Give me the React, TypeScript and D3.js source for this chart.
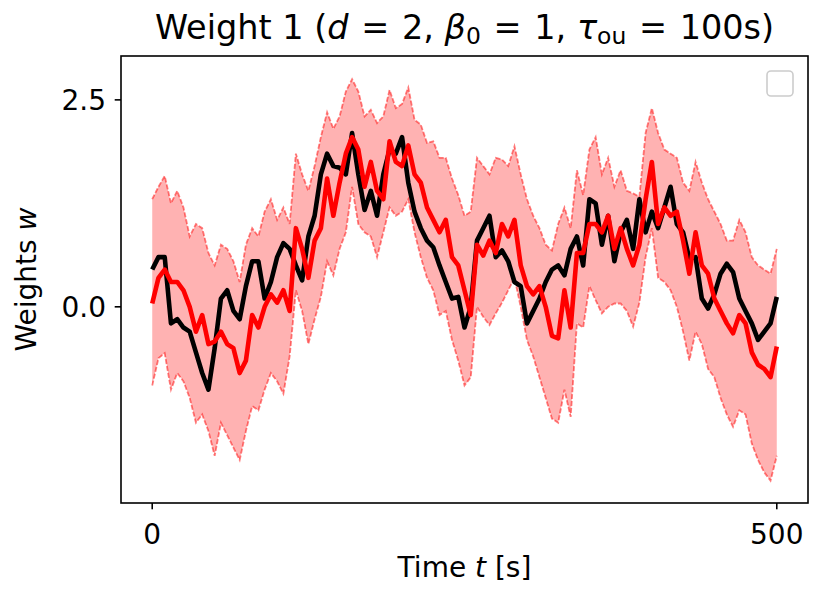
import React from 'react';
import * as d3 from 'd3';

// sample times (s), one reading every 5 s
const times = d3.range(0, 501, 5);

// true weight (black)
const trueWeight = [
    0.45, 0.6, 0.6, -0.2, -0.15, -0.25, -0.3, -0.55, -0.8, -1.0,
    -0.5, 0.1, 0.2, -0.05, -0.15, 0.25, 0.55, 0.55, 0.1, 0.3,
    0.6, 0.77, 0.7, 0.5, 0.32, 0.85, 1.1, 1.6, 1.85, 1.7,
    1.68, 1.6, 2.1, 1.6, 1.17, 1.4, 1.1, 1.6, 1.9, 1.85,
    2.05, 1.5, 1.15, 0.95, 0.8, 0.72, 0.5, 0.3, 0.1, 0.12,
    -0.25, 0.0, 0.8, 0.95, 1.1, 0.6, 0.68, 0.55, 0.3, 0.25,
    -0.2, -0.05, 0.1, 0.3, 0.45, 0.5, 0.38, 0.7, 0.85, 0.5,
    1.3, 1.25, 0.75, 1.1, 0.55, 0.9, 1.05, 0.7, 1.3, 0.9,
    1.15, 0.95, 1.2, 1.45, 1.0, 0.9, 0.58, 0.6, 0.1, -0.02,
    0.15, 0.4, 0.52, 0.42, 0.1, -0.05, -0.2, -0.4, -0.3, -0.2,
    0.12,
];

// filter mean (red)
const meanWeight = [
    0.04, 0.35, 0.45, 0.3, 0.3, 0.2, 0.0, -0.3, -0.1, -0.45,
    -0.42, -0.3, -0.45, -0.5, -0.8, -0.65, -0.1, -0.25, 0.0, 0.15,
    0.05, 0.2, -0.05, 0.95, 0.7, 0.35, 0.8, 0.95, 1.55, 1.1,
    1.5, 1.85, 2.05, 1.9, 1.45, 1.75, 1.4, 1.3, 2.0, 1.75,
    1.7, 1.95, 1.6, 1.5, 1.2, 1.05, 0.9, 1.05, 0.6, 0.5,
    0.2, -0.1, 0.75, 0.62, 0.8, 0.65, 1.0, 0.85, 1.05, 0.5,
    0.25, 0.15, 0.25, 0.0, -0.35, -0.38, 0.2, -0.25, 0.65, 0.65,
    1.0, 1.0, 0.9, 1.1, 0.7, 0.95, 0.7, 0.5, 0.75, 1.3,
    1.75, 1.0, 1.2, 1.1, 1.15, 0.8, 0.4, 0.9, 0.5, 0.4,
    0.1, -0.05, -0.2, -0.32, -0.1, -0.2, -0.55, -0.7, -0.75, -0.85,
    -0.48,
];

// mean + 2 sd
const upperBand = [
    1.3, 1.45, 1.58, 1.25, 1.4, 1.2, 0.85, 1.0, 0.95, 0.65,
    0.5, 0.75, 0.7, 0.55, 0.3, 0.75, 0.95, 0.85, 1.15, 1.3,
    1.05, 1.2, 1.0, 1.85, 1.6, 1.4, 1.7, 2.05, 2.35, 2.15,
    2.3, 2.6, 2.75, 2.6, 2.3, 2.38, 2.22, 2.3, 2.62, 2.4,
    2.45, 2.65, 2.26, 2.2, 1.98, 2.0, 1.8, 1.8, 1.55, 1.35,
    1.1, 1.15, 1.8, 1.7, 1.6, 1.8, 1.78, 1.7, 1.94, 1.6,
    1.3, 1.1, 0.95, 0.75, 0.68, 1.0, 1.2, 0.95, 1.65, 1.35,
    1.9, 2.05, 1.6, 1.8, 1.45, 1.65, 1.4, 1.37, 1.33, 2.1,
    2.4, 2.1, 1.9, 1.85, 1.8, 1.5, 1.4, 1.75, 1.5, 1.3,
    1.15, 1.0, 0.8, 0.8, 1.05, 0.9, 0.6, 0.5, 0.45, 0.4,
    0.7,
];

// mean - 2 sd
const lowerBand = [
    -0.95, -0.62, -0.56, -1.0, -0.8, -0.9, -1.1, -1.4, -1.3, -1.5,
    -1.8, -1.4, -1.55, -1.7, -1.85, -1.5, -1.2, -1.25, -1.0, -0.8,
    -0.9, -1.05, -0.6, 0.2, -0.05, -0.45, -0.15, 0.12, 0.55, 0.38,
    0.7, 0.9, 1.45, 1.0, 0.9, 0.85, 0.6, 0.9, 1.2, 1.1,
    1.15, 1.3, 0.9, 0.6, 0.35, 0.2, -0.1, -0.05, -0.4, -0.65,
    -0.95, -0.85, 0.0, -0.12, -0.22, -0.08, 0.05, 0.2, 0.35, 0.0,
    -0.4, -0.6, -0.85, -1.1, -1.35, -1.4, -1.0, -1.33, -0.2, -0.25,
    0.25, 0.08, -0.08, 0.0, 0.04, 0.04, -0.05, -0.24, 0.05, 0.6,
    0.95, 0.35, 0.3, 0.2, 0.0, -0.3, -0.65, -0.3, -0.45, -0.75,
    -0.85, -1.1, -1.3, -1.45, -1.25, -1.3, -1.65, -1.85, -2.0, -2.1,
    -1.8,
];

const xTicks = [0, 500];
const yTicks = [0.0, 2.5];

const W = 830;
const H = 600;
const left = 121;
const right = 808;
const top = 56;
const bottom = 503;
const FONT = 'DejaVu Sans, sans-serif';
const FS = 28;
const TITLE_FS = 33.5;

const App: React.FC = () => {
    const x = d3.scaleLinear().domain([-25, 525]).range([left, right]);
    const y = d3.scaleLinear().domain([-2.37, 3.03]).range([bottom, top]);

    const idx = times.map((_, i) => i);

    const line = (vals: number[]) =>
        d3.line<number>()
            .x(i => x(times[i]))
            .y(i => y(vals[i]))(idx) ?? '';

    const band = d3.area<number>()
        .x(i => x(times[i]))
        .y0(i => y(lowerBand[i]))
        .y1(i => y(upperBand[i]))(idx) ?? '';

    const sub = TITLE_FS * 0.7;

    return (
        <svg width={W} height={H} style={{ position: 'absolute', left: 0, top: 0, background: '#fff' }}
            fontFamily={FONT}>
            <defs>
                <clipPath id="plot">
                    <rect x={left} y={top} width={right - left} height={bottom - top} />
                </clipPath>
            </defs>

            <g clipPath="url(#plot)">
                <path d={band} fill="red" fillOpacity={0.3} stroke="none" />
                <path d={line(upperBand)} fill="none" stroke="red" strokeOpacity={0.5}
                    strokeWidth={1.8} strokeDasharray="5,2" />
                <path d={line(lowerBand)} fill="none" stroke="red" strokeOpacity={0.5}
                    strokeWidth={1.8} strokeDasharray="5,2" />
                <path d={line(trueWeight)} fill="none" stroke="black" strokeWidth={4.6}
                    strokeLinejoin="round" />
                <path d={line(meanWeight)} fill="none" stroke="red" strokeWidth={4.6}
                    strokeLinejoin="round" />
            </g>

            {/* empty legend */}
            <rect x={767} y={71} width={26} height={25} rx={4} fill="#fff" fillOpacity={0.8}
                stroke="#ccc" strokeWidth={1.6} />

            <rect x={left} y={top} width={right - left} height={bottom - top} fill="none"
                stroke="black" strokeWidth={1.6} />

            {xTicks.map(t => (
                <g key={'x' + t} transform={`translate(${x(t)},${bottom})`}>
                    <line y2={6.3} stroke="black" strokeWidth={1.6} />
                    <text y={41} textAnchor="middle" fontSize={FS}>{t}</text>
                </g>
            ))}
            {yTicks.map(v => (
                <g key={'y' + v} transform={`translate(${left},${y(v)})`}>
                    <line x2={-6.3} stroke="black" strokeWidth={1.6} />
                    <text x={-15} dy="0.36em" textAnchor="end" fontSize={FS}>{v.toFixed(1)}</text>
                </g>
            ))}

            <text x={(left + right) / 2} y={577} textAnchor="middle" fontSize={FS}>
                Time <tspan fontStyle="italic">t</tspan> [s]
            </text>
            <text transform={`translate(36,${(top + bottom) / 2}) rotate(-90)`} textAnchor="middle" fontSize={FS}>
                Weights <tspan fontStyle="italic">w</tspan>
            </text>

            <text x={(left + right) / 2} y={39} textAnchor="middle" fontSize={TITLE_FS}>
                Weight 1 (<tspan fontStyle="italic">d</tspan>
                <tspan dx={2}> = </tspan>
                <tspan dx={2}>2, </tspan>
                <tspan fontStyle="italic">β</tspan>
                <tspan fontSize={sub} dy={5}>0</tspan>
                <tspan dy={-5} dx={2}> = </tspan>
                <tspan dx={2}>1, </tspan>
                <tspan fontStyle="italic">τ</tspan>
                <tspan fontSize={sub} dy={5}>ou</tspan>
                <tspan dy={-5} dx={2}> = </tspan>
                <tspan dx={2}>100s)</tspan>
            </text>
        </svg>
    );
};

export default App;
